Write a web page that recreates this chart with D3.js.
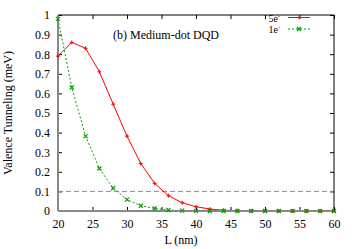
<!DOCTYPE html>
<html>
<head>
<meta charset="utf-8">
<script src="https://cdn.jsdelivr.net/npm/d3@7"></script>
<style>
  body { margin: 0; background: #fff; }
  svg { font-family: "Liberation Serif", "DejaVu Serif", serif; }
</style>
</head>
<body>
<svg id="chart" width="356" height="249"></svg>
<script>
const lengths = [20, 22, 24, 26, 28, 30, 32, 34, 36, 38, 40, 42, 44, 46, 48, 50, 52, 54, 56, 58, 60];
const tunnel5e = [0.79, 0.86, 0.83, 0.71, 0.545, 0.382, 0.242, 0.141, 0.078, 0.042, 0.022, 0.01, 0.004, 0.002, 0.001, 0, 0, 0, 0, 0, 0];
const tunnel1e = [0.98, 0.63, 0.382, 0.217, 0.116, 0.058, 0.027, 0.013, 0.005, 0.002, 0.001, 0, 0, 0, 0, 0, 0, 0, 0, 0, 0];
const xTicks = [20, 25, 30, 35, 40, 45, 50, 55, 60];
const yTicks = [0, 0.1, 0.2, 0.3, 0.4, 0.5, 0.6, 0.7, 0.8, 0.9, 1];
const threshold = 0.1;

const svg = d3.select('svg#chart');
const m = {left: 58, right: 334, top: 15, bottom: 211};

const x = d3.scaleLinear().domain([20, 60]).range([m.left, m.right]);
const y = d3.scaleLinear().domain([0, 1]).range([m.bottom, m.top]);

const fs = 12;

// inward ticks on all four sides
svg.append('g')
  .attr('transform', `translate(0,${m.bottom})`)
  .call(d3.axisBottom(x).tickValues(xTicks).tickSize(-4).tickPadding(8).tickFormat(d3.format('d')))
  .call(g => g.select('.domain').remove())
  .call(g => g.selectAll('text').attr('font-size', fs).attr('font-family', 'Liberation Serif').attr('fill', '#000'));
svg.append('g')
  .attr('transform', `translate(0,${m.top})`)
  .call(d3.axisTop(x).tickValues(xTicks).tickSize(-4).tickFormat(''))
  .call(g => g.select('.domain').remove());
svg.append('g')
  .attr('transform', `translate(${m.left},0)`)
  .call(d3.axisLeft(y).tickValues(yTicks).tickSize(-4).tickPadding(8).tickFormat(d => d === 0 || d === 1 ? d : d3.format('.1f')(d)))
  .call(g => g.select('.domain').remove())
  .call(g => g.selectAll('text').attr('font-size', fs).attr('font-family', 'Liberation Serif').attr('fill', '#000'));
svg.append('g')
  .attr('transform', `translate(${m.right},0)`)
  .call(d3.axisRight(y).tickValues(yTicks).tickSize(-4).tickFormat(''))
  .call(g => g.select('.domain').remove());

// threshold line
svg.append('line')
  .attr('x1', x(20)).attr('x2', x(60))
  .attr('y1', y(threshold)).attr('y2', y(threshold))
  .attr('stroke', '#7b7bff').attr('stroke-width', 1).attr('stroke-dasharray', '5,3');

// border
svg.append('line').attr('x1', m.left).attr('x2', m.right).attr('y1', m.top).attr('y2', m.top).attr('stroke', '#000');
svg.append('line').attr('x1', m.right).attr('x2', m.right).attr('y1', m.top).attr('y2', m.bottom).attr('stroke', '#000');

const line = d3.line().x(d => x(d[0])).y(d => y(d[1]));
const pts5 = lengths.map((l, i) => [l, tunnel5e[i]]);
const pts1 = lengths.map((l, i) => [l, tunnel1e[i]]);

svg.append('path').datum(pts5).attr('d', line)
  .attr('fill', 'none').attr('stroke', '#ff0000').attr('stroke-width', 1);
svg.append('path').datum(pts1).attr('d', line)
  .attr('fill', 'none').attr('stroke', '#00a000').attr('stroke-width', 1).attr('stroke-dasharray', '2,2');

const plus = (g, cx, cy, col) => {
  g.append('path').attr('d', `M${cx - 2},${cy}H${cx + 2}M${cx},${cy - 2}V${cy + 2}`)
    .attr('stroke', col).attr('stroke-width', 1);
};
const cross = (g, cx, cy, col) => {
  g.append('path').attr('d', `M${cx - 2},${cy - 2}L${cx + 2},${cy + 2}M${cx - 2},${cy + 2}L${cx + 2},${cy - 2}`)
    .attr('stroke', col).attr('stroke-width', 1.2);
};
const marks = svg.append('g');
pts5.forEach(d => plus(marks, x(d[0]), y(d[1]), '#ff0000'));
pts1.forEach(d => cross(marks, x(d[0]), y(d[1]), '#00a000'));

// left & bottom border drawn grey and thicker
svg.append('line').attr('x1', m.left).attr('x2', m.right).attr('y1', m.bottom).attr('y2', m.bottom).attr('stroke', '#888').attr('stroke-width', 2);
svg.append('line').attr('x1', m.left).attr('x2', m.left).attr('y1', m.top).attr('y2', m.bottom).attr('stroke', '#888').attr('stroke-width', 2);
svg.node().appendChild(marks.node());

// annotation
svg.append('text').attr('x', 113).attr('y', 39).attr('font-size', fs).text('(b) Medium-dot DQD');

// legend
const legend = [
  {label: '5e', col: '#ff0000', dash: null, mark: plus, y: 17.5},
  {label: '1e', col: '#00a000', dash: '2,2', mark: cross, y: 29}
];
legend.forEach(l => {
  const t = svg.append('text').attr('x', 280).attr('y', l.y + 4).attr('text-anchor', 'end').attr('font-size', 10);
  t.append('tspan').text(l.label);
  t.append('tspan').attr('dy', -4).attr('font-size', 6).text('-');
  svg.append('line').attr('x1', 288).attr('x2', 310).attr('y1', l.y).attr('y2', l.y)
    .attr('stroke', l.col).attr('stroke-dasharray', l.dash);
  l.mark(svg, 299, l.y, l.col);
});

// axis labels
svg.append('text').attr('x', 181).attr('y', 244).attr('text-anchor', 'middle').attr('font-size', fs).text('L (nm)');
svg.append('text').attr('transform', 'translate(12,113) rotate(-90)').attr('text-anchor', 'middle').attr('font-size', fs).text('Valence Tunneling (meV)');
</script>
</body>
</html>
